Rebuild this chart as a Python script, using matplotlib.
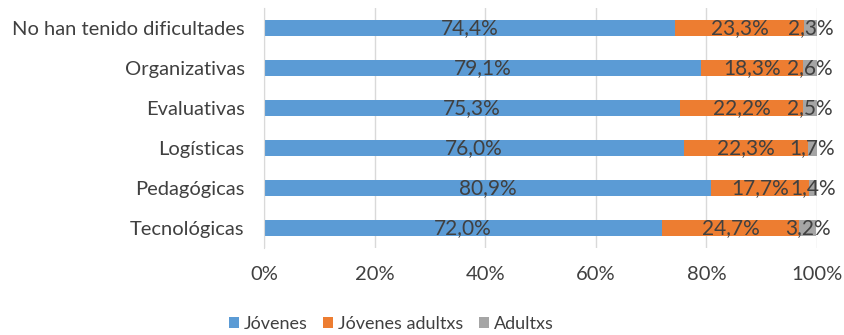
import numpy as np
import matplotlib.pyplot as plt
from matplotlib.ticker import FuncFormatter

plt.rcParams['font.family'] = ['Lato', 'DejaVu Sans']

categorias = ["No han tenido dificultades", "Organizativas", "Evaluativas",
              "Logísticas", "Pedagógicas", "Tecnológicas"]
jovenes = [74.4, 79.1, 75.3, 76.0, 80.9, 72.0]
jovenes_adultxs = [23.3, 18.3, 22.2, 22.3, 17.7, 24.7]
adultxs = [2.3, 2.6, 2.5, 1.7, 1.4, 3.2]

series = [("Jóvenes", jovenes, "#5B9BD5"),
          ("Jóvenes adultxs", jovenes_adultxs, "#ED7D31"),
          ("Adultxs", adultxs, "#A5A5A5")]

texto = "#404040"

fig = plt.figure(figsize=(8.45, 3.35), dpi=100)
ax = fig.add_axes([0.3124, 0.2597, 0.6545, 0.7164])

y = np.arange(len(categorias))
izq = np.zeros(len(categorias))
for nombre, vals, color in series:
    vals = np.array(vals)
    ax.barh(y, vals, left=izq, height=0.4, color=color, label=nombre, zorder=2)
    for yi, l, v in zip(y, izq, vals):
        ax.text(l + v / 2, yi, f"{v:.1f}%".replace(".", ","), ha="center", va="center",
                fontsize=15, color=texto, zorder=3)
    izq = izq + vals

ax.set_xlim(0, 100)
ax.set_ylim(len(categorias) - 0.5, -0.5)
ax.set_yticks(y)
ax.set_yticklabels(categorias, fontsize=14.5, color=texto)
ax.set_xticks(np.arange(0, 101, 20))
ax.xaxis.set_major_formatter(FuncFormatter(lambda v, p: f"{v:.0f}%"))
ax.tick_params(axis="x", length=0, pad=13, labelsize=14.5, labelcolor=texto)
ax.tick_params(axis="y", length=0, pad=14)
ax.grid(axis="x", color="#D9D9D9", linewidth=1, zorder=0)
for s in ["top", "right", "bottom"]:
    ax.spines[s].set_visible(False)
ax.spines["left"].set_color("#D9D9D9")

fig.legend(loc="lower center", bbox_to_anchor=(0.463, -0.04), ncol=3, frameon=False,
           fontsize=13, handlelength=0.55, handleheight=0.55, handletextpad=0.25,
           columnspacing=0.9, labelcolor=texto)

fig.savefig("out.png", dpi=100)
